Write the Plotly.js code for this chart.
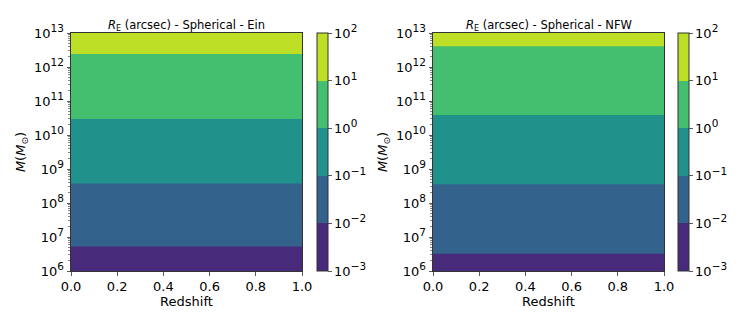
<!DOCTYPE html>
<html>
<head>
<meta charset="utf-8">
<script src="https://cdn.plot.ly/plotly-3.0.1.min.js"></script>
<style>
  html, body { margin: 0; padding: 0; background: #fff; }
  #chart { width: 747px; height: 325px; }
</style>
</head>
<body>
<div id="chart"></div>
<script>
// redshift grid and log10 halo mass grid
const redshift = [0, 0.5, 1];
const logMass = [6, 7, 8, 9, 10, 11, 12, 13];

// log10 of Einstein radius (arcsec)
const logREin = [-2.39, -1.85, -1.31, -0.77, -0.25, 0.28, 0.80, 1.32];
const logRNfw = [-2.25, -1.76, -1.27, -0.78, -0.29, 0.20, 0.70, 1.19];

// contour levels (exponents) and band colours
const levelExp = [-3, -2, -1, 0, 1, 2];
const bandColors = ['#472a7a', '#33638d', '#21918c', '#44bf70', '#bddf26'];
const massTicks = [6, 7, 8, 9, 10, 11, 12, 13];
const zTicks = [0, 0.2, 0.4, 0.6, 0.8, 1.0];

const W = 747, H = 325;
const font = 'DejaVu Sans, sans-serif';

// step colorscale
const stepEdges = [0, 0.25, 5 / 12, 7 / 12, 0.75, 1];
const colorscale = [];
bandColors.forEach((c, i) => {
    colorscale.push([stepEdges[i], c]);
    colorscale.push([stepEdges[i + 1], c]);
});

// minor ticks for the log mass axis
const minorVals = [];
for (let n = 6; n < 13; n++) {
    for (let k = 2; k <= 9; k++) minorVals.push(n + Math.log10(k));
}

const pow10 = e => '10<sup><span style="font-size:10.5px">' + (e < 0 ? '\u2212' + (-e) : e) + '</span></sup>';

const plotTop = 33, plotBottom = 271;
const yDomain = [1 - plotBottom / H, 1 - plotTop / H];

function makeTrace(values, xa, ya, cbLeft) {
    return {
        type: 'contour',
        x: redshift,
        y: logMass,
        z: values.map(v => redshift.map(() => v)),
        xaxis: xa,
        yaxis: ya,
        zmin: levelExp[0],
        zmax: levelExp[levelExp.length - 1],
        autocontour: false,
        contours: { start: levelExp[0], end: levelExp[levelExp.length - 1], size: 1, coloring: 'fill', showlines: false },
        line: { width: 0 },
        colorscale: colorscale,
        colorbar: {
            x: cbLeft / W, xanchor: 'left',
            y: yDomain[1], yanchor: 'top',
            len: plotBottom - plotTop, lenmode: 'pixels',
            thickness: 11, thicknessmode: 'pixels',
            xpad: 0, ypad: 0,
            outlinewidth: 1, outlinecolor: '#333',
            tickmode: 'array',
            tickvals: levelExp,
            ticktext: levelExp.map(pow10),
            ticks: 'outside', ticklen: 3.5, tickwidth: 0.8, tickcolor: '#333',
            tickfont: { family: font, size: 13, color: '#000' }
        },
        hoverinfo: 'skip'
    };
}

function xAxis(l, r, anchor) {
    return {
        domain: [l / W, r / W], anchor: anchor, range: [0, 1],
        tickmode: 'array', tickvals: zTicks, ticktext: zTicks.map(v => v.toFixed(1)),
        ticks: 'outside', ticklen: 3.5, tickwidth: 0.8, tickcolor: '#333',
        showline: true, mirror: true, linecolor: '#333', linewidth: 1,
        showgrid: false, zeroline: false,
        tickfont: { family: font, size: 13, color: '#000' },
        title: { text: 'Redshift', font: { family: font, size: 13, color: '#000' }, standoff: 2 }
    };
}

function yAxis(anchor) {
    return {
        domain: yDomain, anchor: anchor, range: [6, 13],
        tickmode: 'array', tickvals: massTicks, ticktext: massTicks.map(pow10),
        ticks: 'outside', ticklen: 3.5, tickwidth: 0.8, tickcolor: '#333',
        minor: { tickmode: 'array', tickvals: minorVals, ticks: 'outside', ticklen: 2, tickwidth: 0.6, tickcolor: '#333' },
        showline: true, mirror: true, linecolor: '#333', linewidth: 1,
        showgrid: false, zeroline: false,
        tickfont: { family: font, size: 13, color: '#000' },
        title: { text: '<i>M</i>(<i>M</i><sub>\u2299</sub>)', font: { family: font, size: 13, color: '#000' }, standoff: 5 }
    };
}

const data = [
    makeTrace(logREin, 'x', 'y', 317),
    makeTrace(logRNfw, 'x2', 'y2', 678)
];

const panelTitles = ['Ein', 'NFW'];
const panelCenters = [(71 + 302) / 2, (433 + 664) / 2];

const layout = {
    width: W, height: H,
    margin: { l: 0, r: 0, t: 0, b: 0 },
    paper_bgcolor: '#fff', plot_bgcolor: '#fff',
    showlegend: false,
    xaxis: xAxis(71, 302, 'y'),
    yaxis: yAxis('x'),
    xaxis2: xAxis(433, 664, 'y2'),
    yaxis2: yAxis('x2'),
    annotations: panelTitles.map((t, i) => ({
        xref: 'paper', yref: 'paper',
        x: panelCenters[i] / W, y: yDomain[1],
        xanchor: 'center', yanchor: 'bottom', yshift: -2,
        showarrow: false,
        text: '<i>R</i><sub>E</sub> (arcsec) - Spherical - ' + t,
        font: { family: font, size: 11.5, color: '#000' }
    }))
};

Plotly.newPlot('chart', data, layout, { displayModeBar: false, staticPlot: true });
</script>
</body>
</html>
